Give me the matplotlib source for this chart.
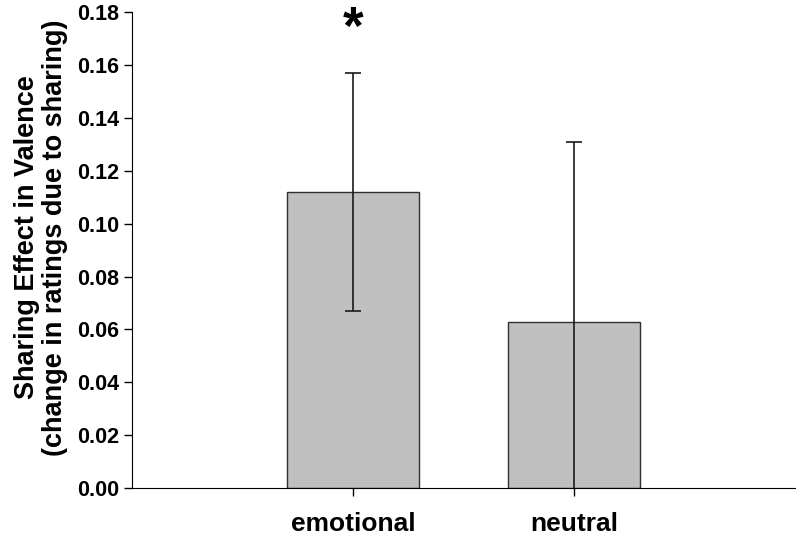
import numpy as np
import matplotlib.pyplot as plt

# donnees
categories = ['emotional', 'neutral']
means = [0.112, 0.063]
errors = [0.045, 0.068]

plt.rcParams['font.family'] = ['Liberation Sans', 'DejaVu Sans']
plt.rcParams['font.weight'] = 'bold'

fig = plt.figure(figsize=(8, 5.38), dpi=100)
ax = fig.add_axes([0.165, 0.093, 0.829, 0.884])

x = np.arange(len(categories))
ax.bar(x, means, width=0.6, color='#c0c0c0', edgecolor='#303030', linewidth=1.0, zorder=2)
ax.errorbar(x, means, yerr=errors, fmt='none', ecolor='#1a1a1a', elinewidth=1.2,
            capsize=5.5, capthick=1.2, zorder=3)

# etoile de significativite au-dessus de la barre emotional
ax.text(x[0], 0.168, '*', ha='center', va='baseline', fontsize=38, fontweight='bold',
        clip_on=False)

ax.set_xlim(-1, 2)
ax.set_ylim(0, 0.18)
ax.set_yticks(np.arange(0, 0.181, 0.02))
ax.set_yticklabels(['%.2f' % v for v in np.arange(0, 0.181, 0.02)], fontsize=15.5, fontweight='bold')
ax.set_xticks(x)
ax.set_xticklabels(categories, fontsize=19, fontweight='bold')

ax.spines['top'].set_visible(False)
ax.spines['right'].set_visible(False)
ax.tick_params(axis='y', direction='out', length=6, width=1, pad=3)
ax.tick_params(axis='x', direction='out', length=6, width=1, pad=11)

ax.set_ylabel('Sharing Effect in Valence\n(change in ratings due to sharing)',
              fontsize=19.5, fontweight='bold', linespacing=1.1)
ax.yaxis.set_label_coords(-0.097, 0.527)

plt.savefig('out.png', dpi=100)
